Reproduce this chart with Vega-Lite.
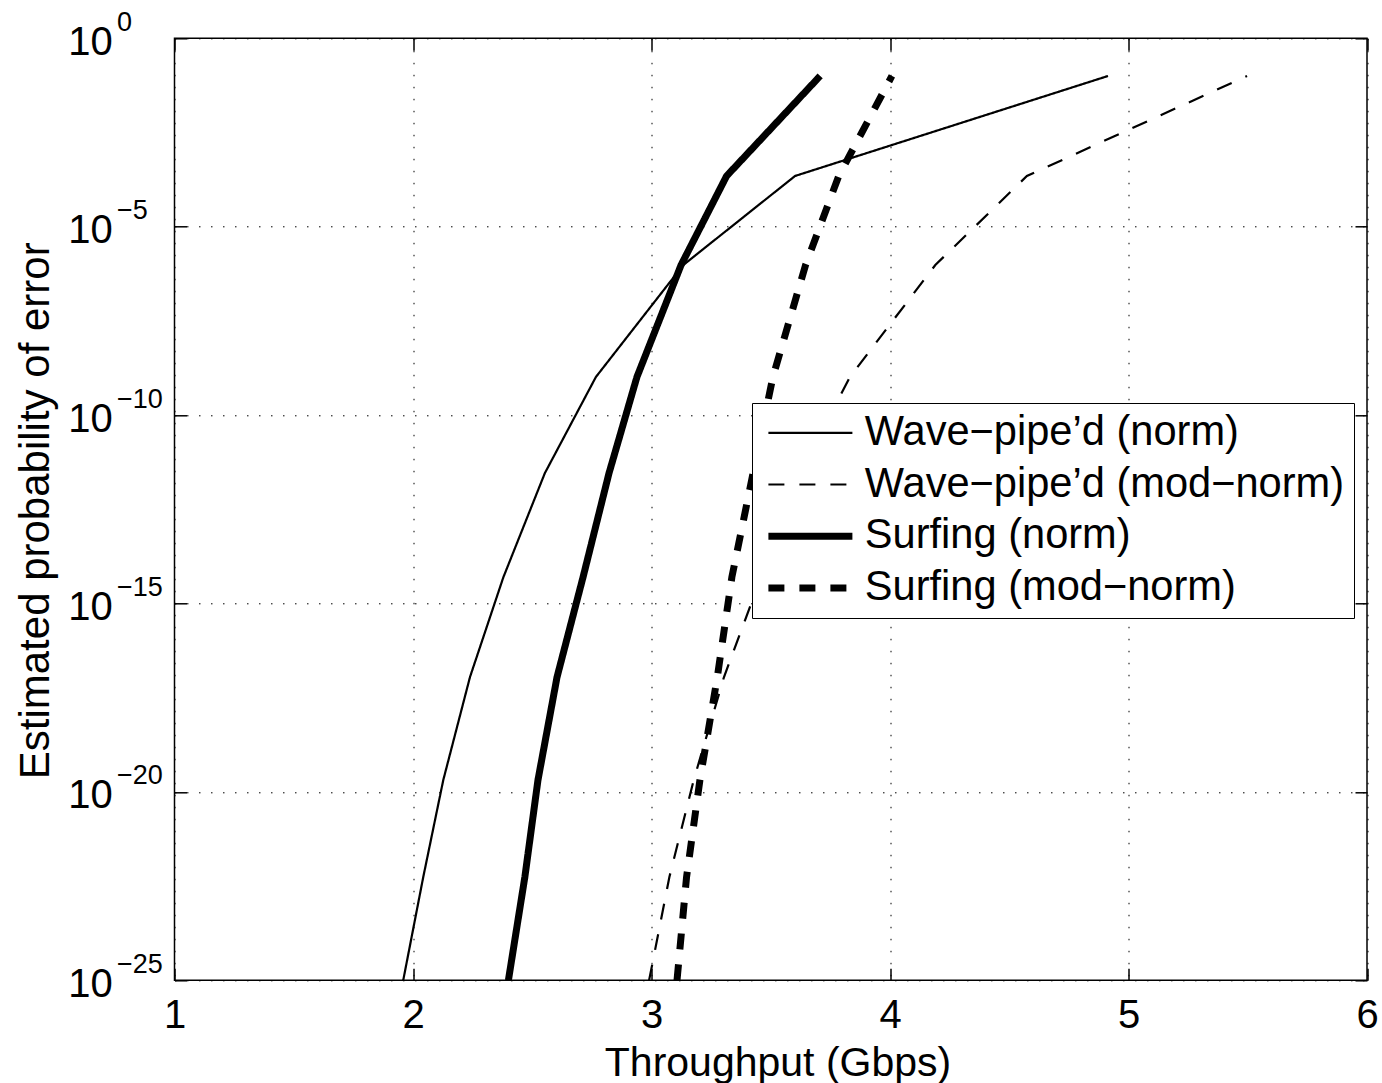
{
  "$schema": "https://vega.github.io/schema/vega-lite/v6.json",
  "width": 1192.5,
  "height": 942,
  "autosize": {"type": "none"},
  "padding": {"left": 174.5, "top": 38.3, "right": 15, "bottom": 102.7},
  "background": "white",
  "config": {
    "font": "Liberation Sans",
    "view": {"stroke": "black", "strokeWidth": 1.5}
  },
  "data": {
    "values": [
      {"series": "Wave−pipe’d (norm)", "x": 4.914, "y": 0.1},
      {"series": "Wave−pipe’d (norm)", "x": 3.602, "y": 2.22e-4},
      {"series": "Wave−pipe’d (norm)", "x": 3.133, "y": 9.6e-7},
      {"series": "Wave−pipe’d (norm)", "x": 2.767, "y": 1.03e-9},
      {"series": "Wave−pipe’d (norm)", "x": 2.553, "y": 2.9e-12},
      {"series": "Wave−pipe’d (norm)", "x": 2.379, "y": 5.0e-15},
      {"series": "Wave−pipe’d (norm)", "x": 2.239, "y": 1.12e-17},
      {"series": "Wave−pipe’d (norm)", "x": 2.127, "y": 2.07e-20},
      {"series": "Wave−pipe’d (norm)", "x": 2.043, "y": 5.5e-23},
      {"series": "Wave−pipe’d (norm)", "x": 1.959, "y": 1.0e-25},
      {"series": "Wave−pipe’d (mod−norm)", "x": 5.497, "y": 0.1},
      {"series": "Wave−pipe’d (mod−norm)", "x": 4.574, "y": 2.22e-4},
      {"series": "Wave−pipe’d (mod−norm)", "x": 4.19, "y": 9.6e-7},
      {"series": "Wave−pipe’d (mod−norm)", "x": 3.832, "y": 1.03e-9},
      {"series": "Wave−pipe’d (mod−norm)", "x": 3.623, "y": 2.9e-12},
      {"series": "Wave−pipe’d (mod−norm)", "x": 3.459, "y": 5.0e-15},
      {"series": "Wave−pipe’d (mod−norm)", "x": 3.304, "y": 1.12e-17},
      {"series": "Wave−pipe’d (mod−norm)", "x": 3.177, "y": 2.07e-20},
      {"series": "Wave−pipe’d (mod−norm)", "x": 3.075, "y": 5.5e-23},
      {"series": "Wave−pipe’d (mod−norm)", "x": 2.99, "y": 1.0e-25},
      {"series": "Surfing (norm)", "x": 3.707, "y": 0.1},
      {"series": "Surfing (norm)", "x": 3.315, "y": 2.22e-4},
      {"series": "Surfing (norm)", "x": 3.124, "y": 9.6e-7},
      {"series": "Surfing (norm)", "x": 2.939, "y": 1.03e-9},
      {"series": "Surfing (norm)", "x": 2.822, "y": 2.9e-12},
      {"series": "Surfing (norm)", "x": 2.713, "y": 5.0e-15},
      {"series": "Surfing (norm)", "x": 2.604, "y": 1.12e-17},
      {"series": "Surfing (norm)", "x": 2.524, "y": 2.07e-20},
      {"series": "Surfing (norm)", "x": 2.469, "y": 5.5e-23},
      {"series": "Surfing (norm)", "x": 2.4, "y": 1.0e-25},
      {"series": "Surfing (mod−norm)", "x": 4.008, "y": 0.1},
      {"series": "Surfing (mod−norm)", "x": 3.785, "y": 2.22e-4},
      {"series": "Surfing (mod−norm)", "x": 3.646, "y": 9.6e-7},
      {"series": "Surfing (mod−norm)", "x": 3.509, "y": 1.03e-9},
      {"series": "Surfing (mod−norm)", "x": 3.426, "y": 2.9e-12},
      {"series": "Surfing (mod−norm)", "x": 3.337, "y": 5.0e-15},
      {"series": "Surfing (mod−norm)", "x": 3.276, "y": 1.12e-17},
      {"series": "Surfing (mod−norm)", "x": 3.203, "y": 2.07e-20},
      {"series": "Surfing (mod−norm)", "x": 3.147, "y": 5.5e-23},
      {"series": "Surfing (mod−norm)", "x": 3.107, "y": 1.0e-25}
    ]
  },
  "layer": [
    {
      "mark": {"type": "line", "clip": true, "color": "black"},
      "encoding": {
        "x": {
          "field": "x", "type": "quantitative",
          "scale": {"domain": [1, 6], "nice": false, "zero": false},
          "axis": {
            "orient": "bottom", "values": [1, 2, 3, 4, 5, 6], "format": "d",
            "title": "Throughput (Gbps)", "titleFontSize": 41, "titleFontWeight": "normal",
            "titleColor": "black", "titleBaseline": "alphabetic", "titleX": 603, "titleY": 94.7,
            "labelFontSize": 40, "labelColor": "black", "labelBaseline": "alphabetic",
            "labelPadding": 46.7, "labelFlush": false, "labelOverlap": false,
            "ticks": false, "domain": false,
            "grid": true, "gridColor": "black", "gridDash": [1.5, 10.5], "gridWidth": 1
          }
        },
        "y": {
          "field": "y", "type": "quantitative",
          "scale": {"type": "log", "domain": [1e-25, 1], "nice": false},
          "axis": {
            "orient": "left", "values": [1e-25, 1e-20, 1e-15, 1e-10, 1e-5, 1], "labelExpr": "'10'",
            "title": "Estimated probability of error", "titleFontSize": 42, "titleFontWeight": "normal",
            "titleColor": "black", "titleBaseline": "alphabetic", "titleAngle": -90, "titleAlign": "center",
            "titleX": -126.5, "titleY": 472,
            "labelFontSize": 40, "labelColor": "black", "labelAlign": "right", "labelBaseline": "alphabetic",
            "labelOffset": 16, "labelPadding": 62.2, "labelFlush": false, "labelOverlap": false,
            "ticks": false, "domain": false,
            "grid": true, "gridColor": "black", "gridDash": [1.5, 10.5], "gridWidth": 1
          }
        },
        "strokeDash": {
          "field": "series", "type": "nominal",
          "scale": {
            "domain": ["Wave−pipe’d (norm)", "Wave−pipe’d (mod−norm)", "Surfing (norm)", "Surfing (mod−norm)"],
            "range": [[1, 0], [16, 15], [1, 0], [16, 15]]
          },
          "legend": {
            "orient": "none", "legendX": 577.5, "legendY": 364.7, "title": null,
            "symbolType": "M-2.4,0H2.4", "symbolSize": 1225, "symbolStrokeColor": "black",
            "symbolStrokeWidth": {"expr": "indexof('' + datum.value, 'Surfing') >= 0 ? 7 : 2.2"},
            "symbolOffset": 28.6, "labelOffset": 33.6, "labelFontSize": 41.6, "labelColor": "black",
            "labelLimit": 1000, "padding": 9, "rowPadding": 8.7,
            "fillColor": "white", "strokeColor": "black"
          }
        },
        "strokeWidth": {
          "condition": {"test": "indexof('' + (datum.series || datum.value || ''), 'Surfing') >= 0", "value": 7},
          "value": 2.2
        }
      }
    },
    {
      "mark": {"type": "point", "opacity": 0},
      "encoding": {
        "x": {
          "field": "x", "type": "quantitative",
          "scale": {"domain": [1, 6], "nice": false, "zero": false},
          "axis": {
            "orient": "top", "values": [1, 2, 3, 4, 5, 6], "labels": false, "title": null,
            "offset": -12, "ticks": true, "tickSize": 12, "tickColor": "black", "tickWidth": 1.5,
            "domain": false, "grid": false
          }
        },
        "y": {
          "field": "y", "type": "quantitative",
          "scale": {"type": "log", "domain": [1e-25, 1], "nice": false},
          "axis": {
            "orient": "right", "values": [1e-25, 1e-20, 1e-15, 1e-10, 1e-5, 1], "labels": false, "title": null,
            "offset": -12, "ticks": true, "tickSize": 12, "tickColor": "black", "tickWidth": 1.5,
            "domain": false, "grid": false
          }
        }
      }
    },
    {
      "mark": {"type": "point", "opacity": 0},
      "encoding": {
        "x": {
          "field": "x", "type": "quantitative",
          "scale": {"domain": [1, 6], "nice": false, "zero": false},
          "axis": {
            "orient": "bottom", "values": [1, 2, 3, 4, 5, 6], "labels": false, "title": null,
            "offset": -12, "ticks": true, "tickSize": 12, "tickColor": "black", "tickWidth": 1.5,
            "domain": false, "grid": false
          }
        },
        "y": {
          "field": "y", "type": "quantitative",
          "scale": {"type": "log", "domain": [1e-25, 1], "nice": false},
          "axis": {
            "orient": "left", "values": [1e-25, 1e-20, 1e-15, 1e-10, 1e-5, 1], "labels": false, "title": null,
            "offset": -12, "ticks": true, "tickSize": 12, "tickColor": "black", "tickWidth": 1.5,
            "domain": false, "grid": false
          }
        }
      }
    },
    {
      "mark": {"type": "point", "opacity": 0},
      "encoding": {
        "x": {
          "field": "x", "type": "quantitative",
          "scale": {"domain": [1, 6], "nice": false, "zero": false},
          "axis": null
        },
        "y": {
          "field": "y", "type": "quantitative",
          "scale": {"type": "log", "domain": [1e-25, 1], "nice": false},
          "axis": {
            "orient": "left", "values": [1e-25, 1e-20, 1e-15, 1e-10, 1e-5, 1],
            "labelExpr": "datum.value >= 1 ? '0' : '−' + format(-log(datum.value) / LN10, '.0f')",
            "title": null, "labelFontSize": 27, "labelColor": "black", "labelAlign": "left",
            "labelBaseline": "alphabetic", "labelOffset": -8, "labelPadding": 58,
            "labelFlush": false, "labelOverlap": false,
            "ticks": false, "domain": false, "grid": false
          }
        }
      }
    }
  ],
  "resolve": {"axis": {"x": "independent", "y": "independent"}}
}
